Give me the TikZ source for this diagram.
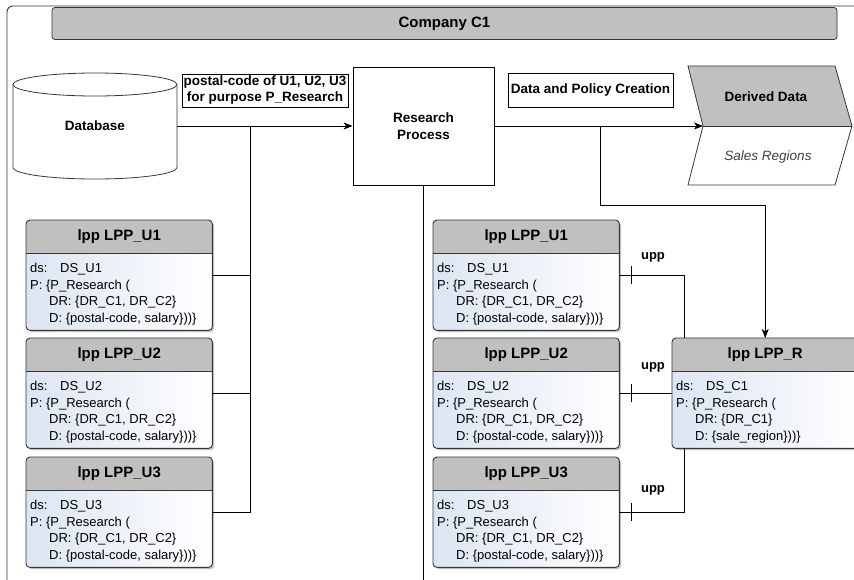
\documentclass[tikz,border=0pt]{standalone}
\usepackage{fontspec}
\setmainfont{Liberation Sans}
\usetikzlibrary{arrows.meta,shadows}
\definecolor{hgray}{RGB}{192,192,192}
\definecolor{bodyblue}{RGB}{220,229,242}
\definecolor{edge}{RGB}{55,55,55}
\tikzset{
  conn/.style={draw=black, line width=0.8pt},
  arr/.style={conn, -{Stealth[length=9pt,width=7pt,inset=2.5pt]}},
  lbl/.style={font=\fontsize{13.5}{16}\selectfont\bfseries},
  labelbox/.style={lbl, draw=black, line width=0.6pt, fill=white, align=center, inner sep=1.5pt},
  procbox/.style={lbl, draw=black, line width=0.8pt, fill=white, align=center, minimum width=141pt, minimum height=118pt, inner sep=0pt},
  compbar/.style={draw=edge, line width=0.8pt, fill=hgray, rounded corners=3pt, minimum width=785pt, minimum height=32pt, inner sep=0pt, font=\fontsize{15}{18}\selectfont\bfseries},
  lppbox/.style={anchor=north west, minimum width=186pt, minimum height=110pt, inner sep=0pt, rounded corners=4pt, left color=bodyblue, right color=white, drop shadow={shadow xshift=2pt, shadow yshift=-2pt, opacity=0.25, fill=black}},
  lpptitle/.style={font=\fontsize{15}{18}\selectfont\bfseries},
  lpptext/.style={anchor=base west, inner sep=0pt, font=\fontsize{13}{16}\selectfont},
  uppl/.style={font=\fontsize{13}{16}\selectfont\bfseries},
  tick/.style={draw=black, line width=0.8pt}
}
\newcommand\mkLpp[8]{%
  \node[lppbox] (#1) at (#2,#3) {};
  \begin{scope}
    \clip[rounded corners=4pt] (#1.north west) rectangle (#1.south east);
    \fill[hgray] (#1.north west) rectangle ([yshift=-33pt]#1.north east);
  \end{scope}
  \draw[edge, line width=0.7pt] ([yshift=-33pt]#1.north west) -- ([yshift=-33pt]#1.north east);
  \draw[edge, line width=0.9pt, rounded corners=4pt] (#1.north west) rectangle (#1.south east);
  \node[lpptitle] (#1-t) at ([yshift=-16.5pt]#1.north) {#4};
  \node[lpptext] (#1-a) at ([xshift=4pt,yshift=-52.5pt]#1.north west) {#5};
  \node[lpptext] (#1-b) at ([xshift=4pt,yshift=-69.2pt]#1.north west) {#6};
  \node[lpptext] (#1-c) at ([xshift=4pt,yshift=-85.9pt]#1.north west) {#7};
  \node[lpptext] (#1-d) at ([xshift=4pt,yshift=-102.6pt]#1.north west) {#8};
}
\begin{document}
\begin{tikzpicture}[x=1pt,y=-1pt]
\useasboundingbox (0,0) rectangle (854,579);
\clip (0,0) rectangle (854,579);
\fill[white] (0,0) rectangle (854,579);

% outer frame
\draw[edge, line width=0.9pt, rounded corners=6pt] (7,700) -- (7,6) -- (900,6);
\node[compbar] (comp) at (444.5,23.5) {Company C1};

% database cylinder
\draw[edge, line width=0.8pt, fill=white] (13,84.5) -- (13,167.5)
  arc[start angle=180, end angle=360, x radius=82pt, y radius=11.5pt] -- (177,84.5)
  arc[start angle=0, end angle=180, x radius=82pt, y radius=11.5pt] -- cycle;
\draw[edge, line width=0.8pt] (13,84.5) arc[start angle=180, end angle=360, x radius=82pt, y radius=11.5pt];
\node[lbl, minimum width=164pt, minimum height=106pt, inner sep=0pt] (db) at (95,126) {Database};

% research process
\node[procbox] (rp) at (423.5,126) {Research\\[1pt]Process};

% labels
\node[labelbox, minimum width=164pt, minimum height=33pt] (lab1) at (265,90.5) {postal-code of U1, U2, U3\\for purpose P\_Research};
\node[labelbox, minimum width=165pt, minimum height=34pt] (lab2) at (590.5,90) {Data and Policy Creation};

% derived data
\fill[hgray] (688,66) -- (835,66) -- (852,126) -- (703,126) -- cycle;
\draw[edge, line width=0.8pt] (688,66) -- (835,66) -- (852,126) -- (835,185) -- (688,185) -- (703,126) -- cycle;
\draw[edge, line width=0.8pt] (703,126) -- (852,126);
\coordinate (ddin) at (703,126);
\node[lbl] (ddt) at (766,97) {Derived Data};
\node[font=\fontsize{13.5}{16}\selectfont\itshape, text=black!75] (dds) at (768,157) {Sales Regions};

% lpp boxes left
\mkLpp{lU1}{26}{220}{lpp LPP\_U1}{\makebox[30pt][l]{ds:}DS\_U1}{P: \{P\_Research (}{\hspace*{19pt}DR: \{DR\_C1, DR\_C2\}}{\hspace*{19pt}D: \{postal-code, salary\}))\}}
\mkLpp{lU2}{26}{338}{lpp LPP\_U2}{\makebox[30pt][l]{ds:}DS\_U2}{P: \{P\_Research (}{\hspace*{19pt}DR: \{DR\_C1, DR\_C2\}}{\hspace*{19pt}D: \{postal-code, salary\}))\}}
\mkLpp{lU3}{26}{457}{lpp LPP\_U3}{\makebox[30pt][l]{ds:}DS\_U3}{P: \{P\_Research (}{\hspace*{19pt}DR: \{DR\_C1, DR\_C2\}}{\hspace*{19pt}D: \{postal-code, salary\}))\}}
% lpp boxes right
\mkLpp{rU1}{433}{220}{lpp LPP\_U1}{\makebox[30pt][l]{ds:}DS\_U1}{P: \{P\_Research (}{\hspace*{19pt}DR: \{DR\_C1, DR\_C2\}}{\hspace*{19pt}D: \{postal-code, salary\}))\}}
\mkLpp{rU2}{433}{338}{lpp LPP\_U2}{\makebox[30pt][l]{ds:}DS\_U2}{P: \{P\_Research (}{\hspace*{19pt}DR: \{DR\_C1, DR\_C2\}}{\hspace*{19pt}D: \{postal-code, salary\}))\}}
\mkLpp{rU3}{433}{457}{lpp LPP\_U3}{\makebox[30pt][l]{ds:}DS\_U3}{P: \{P\_Research (}{\hspace*{19pt}DR: \{DR\_C1, DR\_C2\}}{\hspace*{19pt}D: \{postal-code, salary\}))\}}
\mkLpp{R}{672}{338}{lpp LPP\_R}{\makebox[30pt][l]{ds:}DS\_C1}{P: \{P\_Research (}{\hspace*{19pt}DR: \{DR\_C1\}}{\hspace*{19pt}D: \{sale\_region\}))\}}

% connectors
\draw[arr] (db.east) -- (rp.west);
\coordinate (j1) at (250,126);
\draw[conn] (j1) |- (lU3.east);
\draw[conn] (lU1.east) -- (lU1.east -| j1);
\draw[conn] (lU2.east) -- (lU2.east -| j1);

\draw[arr] (rp.east) -- (ddin);
\coordinate (j2) at (600,126);
\coordinate (j3) at (600,205);
\draw[arr] (j2) -- (j3) -| (R.north);

\draw[black, line width=1.6pt] (rp.south) -- ++(0,420);

\coordinate (rc1) at ([xshift=12pt]R.north west);
\coordinate (rc3) at ([xshift=12pt]R.south west);
\draw[conn] (rU1.east) -| (rc1);
\draw[conn] (rU2.east) -- (R.west);
\draw[conn] (rU3.east) -| (rc3);
\foreach \b in {rU1,rU2,rU3}{
  \draw[tick] ([xshift=12pt,yshift=-9pt]\b.east) -- ([xshift=12pt,yshift=9pt]\b.east);
}
\node[uppl] (upp1) at (653,257) {upp};
\node[uppl] (upp2) at (653,367) {upp};
\node[uppl] (upp3) at (653,490) {upp};
\end{tikzpicture}
\end{document}
